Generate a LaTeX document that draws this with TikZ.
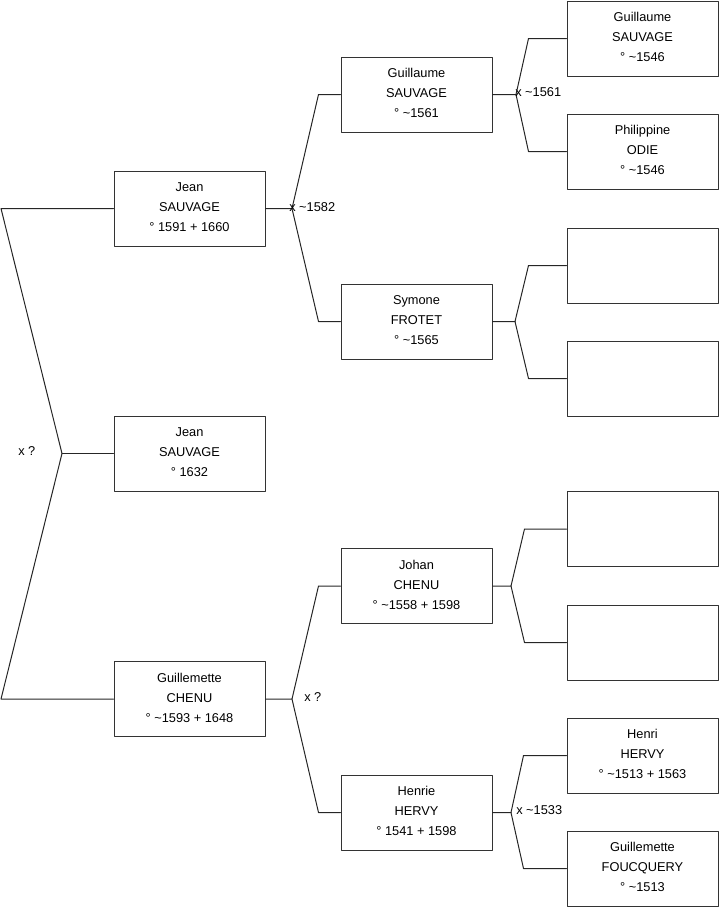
\documentclass[tikz,border=0pt]{standalone}
\usepackage{fontspec}
\setmainfont{Liberation Sans}
\usetikzlibrary{calc}

\newcommand{\ca}{\textasciitilde}

\begin{document}
\begin{tikzpicture}[x=0.75pt, y=-0.75pt, line cap=round, line join=round]

% ---------------- styles ----------------
\tikzset{
  person/.style ={draw=black!80, line width=0.75pt, fill=white,
                  minimum width=113.25pt, minimum height=56.25pt,
                  align=center, inner sep=0pt, text depth=2.2pt,
                  font=\fontsize{9.6}{15}\selectfont},
  link/.style   ={draw=black!85, line width=0.75pt},
  union/.style  ={anchor=west, inner sep=0pt, font=\fontsize{9.6}{12}\selectfont}
}

\useasboundingbox (0,0) rectangle (719,908);

% ---------------- generation 1 ----------------
\node[person] (jean)   at (189.5,208.5) {Jean\\SAUVAGE\\° 1591 + 1660};
\node[person] (jeanB)  at (189.5,453.5) {Jean\\SAUVAGE\\° 1632};
\node[person] (guilC)  at (189.5,699)   {Guillemette\\CHENU\\° \ca1593 + 1648};

% ---------------- generation 2 ----------------
\node[person] (guilS)  at (416.5,94.5)  {Guillaume\\SAUVAGE\\° \ca1561};
\node[person] (symone) at (416.5,321.5) {Symone\\FROTET\\° \ca1565};
\node[person] (johan)  at (416.5,586)   {Johan\\CHENU\\° \ca1558 + 1598};
\node[person] (henrie) at (416.5,812.5) {Henrie\\HERVY\\° 1541 + 1598};

% ---------------- generation 3 ----------------
\node[person] (guilA)  at (642.5,38.5)  {Guillaume\\SAUVAGE\\° \ca1546};
\node[person] (philo)  at (642.5,151.5) {Philippine\\ODIE\\° \ca1546};
\node[person] (emptyA) at (642.5,265.5) {};
\node[person] (emptyB) at (642.5,378.5) {};
\node[person] (emptyC) at (642.5,529)   {};
\node[person] (emptyD) at (642.5,642.5) {};
\node[person] (henri)  at (642.5,755.5) {Henri\\HERVY\\° \ca1513 + 1563};
\node[person] (foucq)  at (642.5,868.5) {Guillemette\\FOUCQUERY\\° \ca1513};

% helper: fork from child #1 through junction #2 to parents #3 and #4, bend #5 before them
\newcommand{\Fork}[5]{%
  \draw[link] (#1.east) -- (#2)
    -- ($(#3.west)+(-#5,0)$) -- (#3.west);
  \draw[link] (#2)
    -- ($(#4.west)+(-#5,0)$) -- (#4.west);
}

% ---------------- junctions ----------------
\coordinate (edge) at (1,0);
\coordinate (jRoot)   at (62,453.5);
\coordinate (jJean)   at (292,208.5);
\coordinate (jGuilC)  at (292,699);
\coordinate (jGuilS)  at (516,94.5);
\coordinate (jSymone) at (515,321.5);
\coordinate (jJohan)  at (511,586);
\coordinate (jHenrie) at (511,812.5);

% siblings
\draw[link] (jean.west) -- (jean.west -| edge) -- (jRoot) -- (guilC.west -| edge) -- (guilC.west);
\draw[link] (jRoot) -- (jeanB.west);

% parents
\Fork{jean}{jJean}{guilS}{symone}{22}
\Fork{guilC}{jGuilC}{johan}{henrie}{22}
\Fork{guilS}{jGuilS}{guilA}{philo}{38}
\Fork{symone}{jSymone}{emptyA}{emptyB}{38}
\Fork{johan}{jJohan}{emptyC}{emptyD}{42}
\Fork{henrie}{jHenrie}{henri}{foucq}{43}

% ---------------- marriages ----------------
\node[union] (uRoot)   at (18,451)  {x ?};
\node[union] (uJean)   at (289,207) {x \ca1582};
\node[union] (uGuilC)  at (304,697) {x ?};
\node[union] (uGuilS)  at (515,92)  {x \ca1561};
\node[union] (uHenrie) at (516,810) {x \ca1533};

\end{tikzpicture}
\end{document}
